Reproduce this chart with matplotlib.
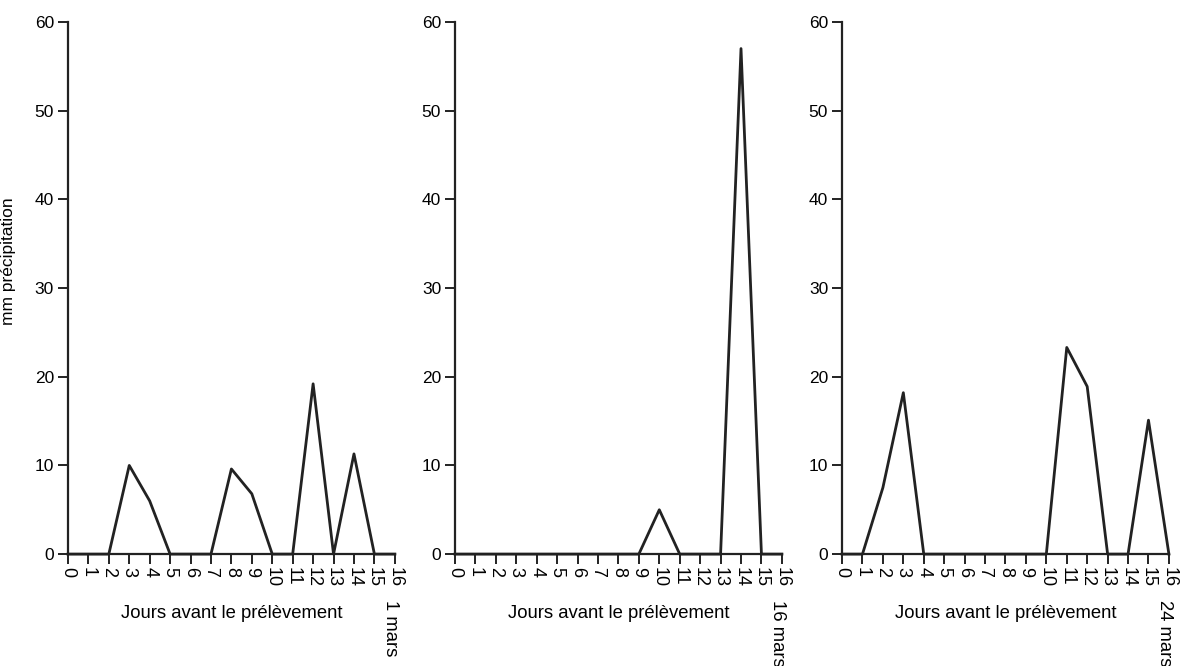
import matplotlib
matplotlib.use("Agg")
import matplotlib.pyplot as plt

plt.rcParams["font.family"] = ["Liberation Sans", "DejaVu Sans"]

DAYS = list(range(0, 17))
RAIN_1MARS = [0, 0, 0, 10, 6, 0, 0, 0, 9.6, 6.8, 0, 0, 19.2, 0, 11.3, 0, 0]
RAIN_16MARS = [0, 0, 0, 0, 0, 0, 0, 0, 0, 0, 5, 0, 0, 0, 57, 0, 0]
RAIN_24MARS = [0, 0, 7.5, 18.2, 0, 0, 0, 0, 0, 0, 0, 23.3, 18.9, 0, 0, 15.1, 0]
DATES = ["1 mars", "16 mars", "24 mars"]
Y_TICKS = [0, 10, 20, 30, 40, 50, 60]

fig = plt.figure(figsize=(11.8, 6.66), dpi=100)
lefts = [0.0576, 0.3856, 0.7136]
series = [RAIN_1MARS, RAIN_16MARS, RAIN_24MARS]

for i, (left, vals, date) in enumerate(zip(lefts, series, DATES)):
    ax = fig.add_axes([left, 0.168, 0.277, 0.799])
    ax.plot(DAYS, vals, color="#222222", lw=2, clip_on=False)
    ax.set_xlim(0, 16)
    ax.set_ylim(0, 60)
    ax.spines["top"].set_visible(False)
    ax.spines["right"].set_visible(False)
    for s in ("left", "bottom"):
        ax.spines[s].set_color("#222222")
        ax.spines[s].set_linewidth(1.6)
    ax.set_yticks(Y_TICKS)
    ax.set_xticks(DAYS)
    ax.set_xticklabels([str(d) for d in DAYS], rotation=-90)
    ax.tick_params(axis="both", direction="out", length=7, width=1.4,
                   color="#222222", pad=3)
    ax.tick_params(axis="y", labelsize=12.5)
    ax.tick_params(axis="x", labelsize=13, pad=2)
    ax.set_xlabel("Jours avant le prélèvement", fontsize=13.3)
    ax.xaxis.set_label_coords(0.5, -0.095)
    if i == 0:
        ax.set_ylabel("mm précipitation", fontsize=12.5)
        ax.yaxis.set_label_coords(-0.16, 0.55)
    ax.annotate(date, xy=(16, 0), xycoords=("data", "axes fraction"),
                xytext=(-3, -33), textcoords="offset points",
                rotation=-90, ha="center", va="top", fontsize=13.3,
                annotation_clip=False)

fig.savefig("out.png", dpi=100)
